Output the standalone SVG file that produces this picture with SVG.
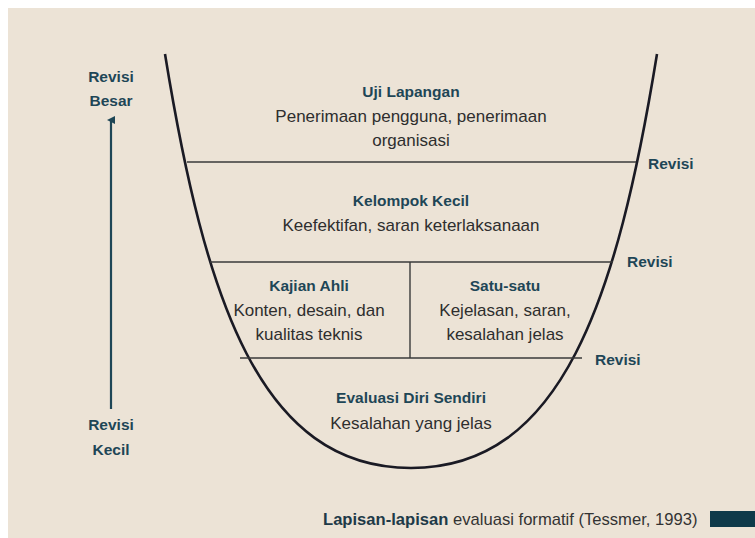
<svg xmlns="http://www.w3.org/2000/svg" width="755" height="538" viewBox="0 0 755 538">
<style>
text{font-family:"Liberation Sans",Arial,sans-serif;text-anchor:middle}
.h{font-weight:bold;fill:#1e4656;font-size:15.5px}
.b{fill:#2e2e2e;font-size:17px}
.r{font-weight:bold;fill:#1e4656;font-size:15.5px;text-anchor:start}
.ln{stroke:#3a3a3a;stroke-width:1.4;fill:none}
</style>
<defs>
<marker id="ah" markerWidth="8" markerHeight="8" refX="4" refY="4" orient="auto" markerUnits="userSpaceOnUse">
<path d="M0,8 L4,0 L8,8 Z" fill="#1e4656"/>
</marker>
</defs>
<rect x="0" y="0" width="755" height="538" fill="#ffffff"/>
<rect x="8" y="8" width="747" height="530" fill="#ece3d6"/>
<g id="bowl">
<path d="M165,54 C205,300 260,468 411,468 C562,468 617,300 657,54" fill="none" stroke="#1a1a24" stroke-width="2.6"/>
</g>
<g id="connectors">
<line class="ln" x1="187" y1="162" x2="636" y2="162"/>
<line class="ln" x1="210" y1="262" x2="613" y2="262"/>
<line class="ln" x1="240" y1="358" x2="582" y2="358"/>
<line class="ln" x1="410" y1="262" x2="410" y2="358"/>
<line x1="111" y1="409" x2="111" y2="120" stroke="#1e4656" stroke-width="2.2" marker-end="url(#ah)"/>
</g>
<g id="uji-lapangan">
<text class="h" x="411" y="97">Uji Lapangan</text>
<text class="b" x="411" y="122">Penerimaan pengguna, penerimaan</text>
<text class="b" x="411" y="146">organisasi</text>
</g>
<g id="kelompok-kecil">
<text class="h" x="411" y="206">Kelompok Kecil</text>
<text class="b" x="411" y="231">Keefektifan, saran keterlaksanaan</text>
</g>
<g id="kajian-ahli">
<text class="h" x="309" y="291">Kajian Ahli</text>
<text class="b" x="309" y="316">Konten, desain, dan</text>
<text class="b" x="309" y="340">kualitas teknis</text>
</g>
<g id="satu-satu">
<text class="h" x="505" y="291">Satu-satu</text>
<text class="b" x="505" y="316">Kejelasan, saran,</text>
<text class="b" x="505" y="340">kesalahan jelas</text>
</g>
<g id="evaluasi-diri">
<text class="h" x="411" y="403">Evaluasi Diri Sendiri</text>
<text class="b" x="411" y="429">Kesalahan yang jelas</text>
</g>
<g id="revisi-labels">
<text class="r" x="648" y="169">Revisi</text>
<text class="r" x="627" y="267">Revisi</text>
<text class="r" x="595" y="365">Revisi</text>
</g>
<g id="revisi-besar">
<text class="h" x="111" y="82">Revisi</text>
<text class="h" x="111" y="106">Besar</text>
</g>
<g id="revisi-kecil">
<text class="h" x="111" y="430">Revisi</text>
<text class="h" x="111" y="455">Kecil</text>
</g>
<g id="caption">
<text x="323" y="525" style="text-anchor:start;font-size:16.6px;fill:#333"><tspan font-weight="bold" fill="#1e3a48">Lapisan-lapisan</tspan> evaluasi formatif (Tessmer, 1993)</text>
<rect x="710" y="511" width="45" height="16" fill="#0f3a4a"/>
</g>
</svg>
